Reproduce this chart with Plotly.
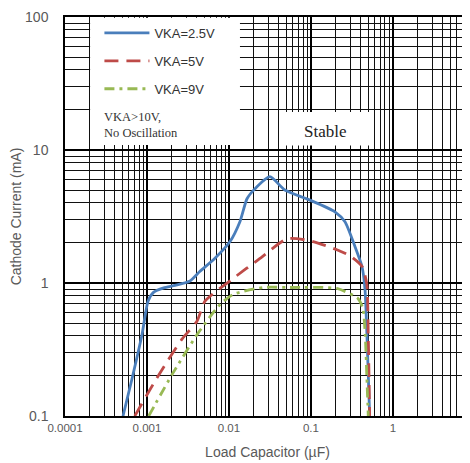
import plotly.graph_objects as go

# Data (Load capacitor in uF, cathode current in mA)
x_vka25 = [5.1e-4, 6.6e-4, 8.7e-4, 1.03e-3, 1.2e-3, 1.6e-3, 2.2e-3, 3.3e-3, 4.4e-3, 6.7e-3,
           0.0103, 0.0136, 0.0166, 0.0207, 0.0316, 0.048, 0.097, 0.196, 0.26, 0.344,
           0.419, 0.456, 0.49, 0.52]
y_vka25 = [0.1, 0.193, 0.41, 0.73, 0.85, 0.92, 0.96, 1.03, 1.22, 1.53,
           2.05, 2.89, 4.3, 5.1, 6.3, 5.0, 4.2, 3.43, 2.89, 1.88,
           1.33, 0.9, 0.3, 0.1]

x_vka5 = [7.1e-4, 1.32e-3, 2.67e-3, 4.07e-3, 5.1e-3, 0.0112, 0.0239, 0.051, 0.097, 0.207,
          0.3, 0.42, 0.48, 0.5, 0.52]
y_vka5 = [0.1, 0.193, 0.378, 0.515, 0.73, 1.08, 1.53, 2.15, 2.08, 1.78,
          1.6, 1.33, 0.98, 0.4, 0.1]

x_vka9 = [1.05e-3, 2.07e-3, 4.2e-3, 7.8e-3, 0.0112, 0.026, 0.055, 0.207, 0.374, 0.43,
          0.46, 0.48, 0.5]
y_vka9 = [0.1, 0.21, 0.42, 0.69, 0.82, 0.925, 0.925, 0.91, 0.766, 0.644,
          0.4, 0.2, 0.1]

x_tickvals = [1e-4, 1e-3, 1e-2, 1e-1, 1]
x_ticktext = ["0.0001", "0.001", "0.01", "0.1", "1"]
y_tickvals = [0.1, 1, 10, 100]
y_ticktext = ["0.1", "1", "10", "100"]

series_names = ["VKA=2.5V", "VKA=5V", "VKA=9V"]
colors = ["#4a7ebb", "#be4b48", "#98b954"]

fig = go.Figure()
fig.add_trace(go.Scatter(x=x_vka25, y=y_vka25, mode="lines", name=series_names[0],
                         legendgroup="a", line=dict(color=colors[0], width=2.8, shape="spline", smoothing=0.6)))
fig.add_trace(go.Scatter(x=x_vka5, y=y_vka5, mode="lines", name=series_names[1],
                         legendgroup="b", line=dict(color=colors[1], width=2.8, dash="14px,8px",
                                                    shape="spline", smoothing=0.6)))
fig.add_trace(go.Scatter(x=x_vka9, y=y_vka9, mode="lines", name=series_names[2],
                         legendgroup="c", line=dict(color=colors[2], width=2.8, dash="10px,5px,3px,5px",
                                                    shape="spline", smoothing=0.6)))

# white boxes covering the grid
fig.add_shape(type="rect", xref="paper", yref="paper", x0=0.062, x1=0.432, y0=0.679, y1=0.998,
              fillcolor="white", line=dict(width=0), layer="above")
fig.add_shape(type="rect", xref="paper", yref="paper", x0=0.543, x1=0.758, y0=0.678, y1=0.762,
              fillcolor="white", line=dict(width=0), layer="above")

fig.add_annotation(xref="paper", yref="paper", x=0.642, y=0.743, text="Stable", showarrow=False,
                   font=dict(family="Liberation Serif", size=17, color="#222222"))
fig.add_annotation(xref="paper", yref="paper", x=0.091, y=0.772, xanchor="left", align="left",
                   text="VKA>10V,<br>No Oscillation", showarrow=False,
                   font=dict(family="Liberation Serif", size=12.5, color="#333333"))

# The page body has an 8px default offset; figure is sized so the plot lands where the reference has it
fig.update_layout(
    width=462, height=455,
    margin=dict(l=57, r=0, t=9, b=47, autoexpand=False),
    paper_bgcolor="white", plot_bgcolor="white",
    font=dict(family="Liberation Sans", color="#595959"),
    showlegend=True,
    legend=dict(x=0.085, y=0.9975, xanchor="left", yanchor="top", bgcolor="rgba(0,0,0,0)",
                traceorder="grouped", tracegroupgap=8, itemwidth=45,
                font=dict(family="Liberation Sans", size=13, color="#333333")),
    xaxis=dict(type="log", range=[-4, 0.94], tickvals=x_tickvals, ticktext=x_ticktext,
               tickfont=dict(size=11.5, color="#595959"), automargin=False,
               ticklabeloverflow="allow",
               showgrid=True, gridcolor="black", gridwidth=1.5,
               minor=dict(showgrid=True, gridcolor="#111111", gridwidth=1, dtick="D1"),
               showline=True, linecolor="black", linewidth=1.5, mirror=True, ticks="",
               title=dict(text="Load Capacitor (µF)", font=dict(size=14, color="#595959"), standoff=15)),
    yaxis=dict(type="log", range=[-1, 2], tickvals=y_tickvals, ticktext=y_ticktext,
               tickfont=dict(size=14, color="#595959"), ticklabelstandoff=12, automargin=False,
               ticklabeloverflow="allow",
               showgrid=True, gridcolor="black", gridwidth=1.5,
               minor=dict(showgrid=True, gridcolor="#111111", gridwidth=1, dtick="D1"),
               showline=True, linecolor="black", linewidth=1.5, mirror=True, ticks="",
               title=dict(text="Cathode Current (mA)", font=dict(size=14, color="#595959"), standoff=4)),
)

fig.write_html("out.html")
